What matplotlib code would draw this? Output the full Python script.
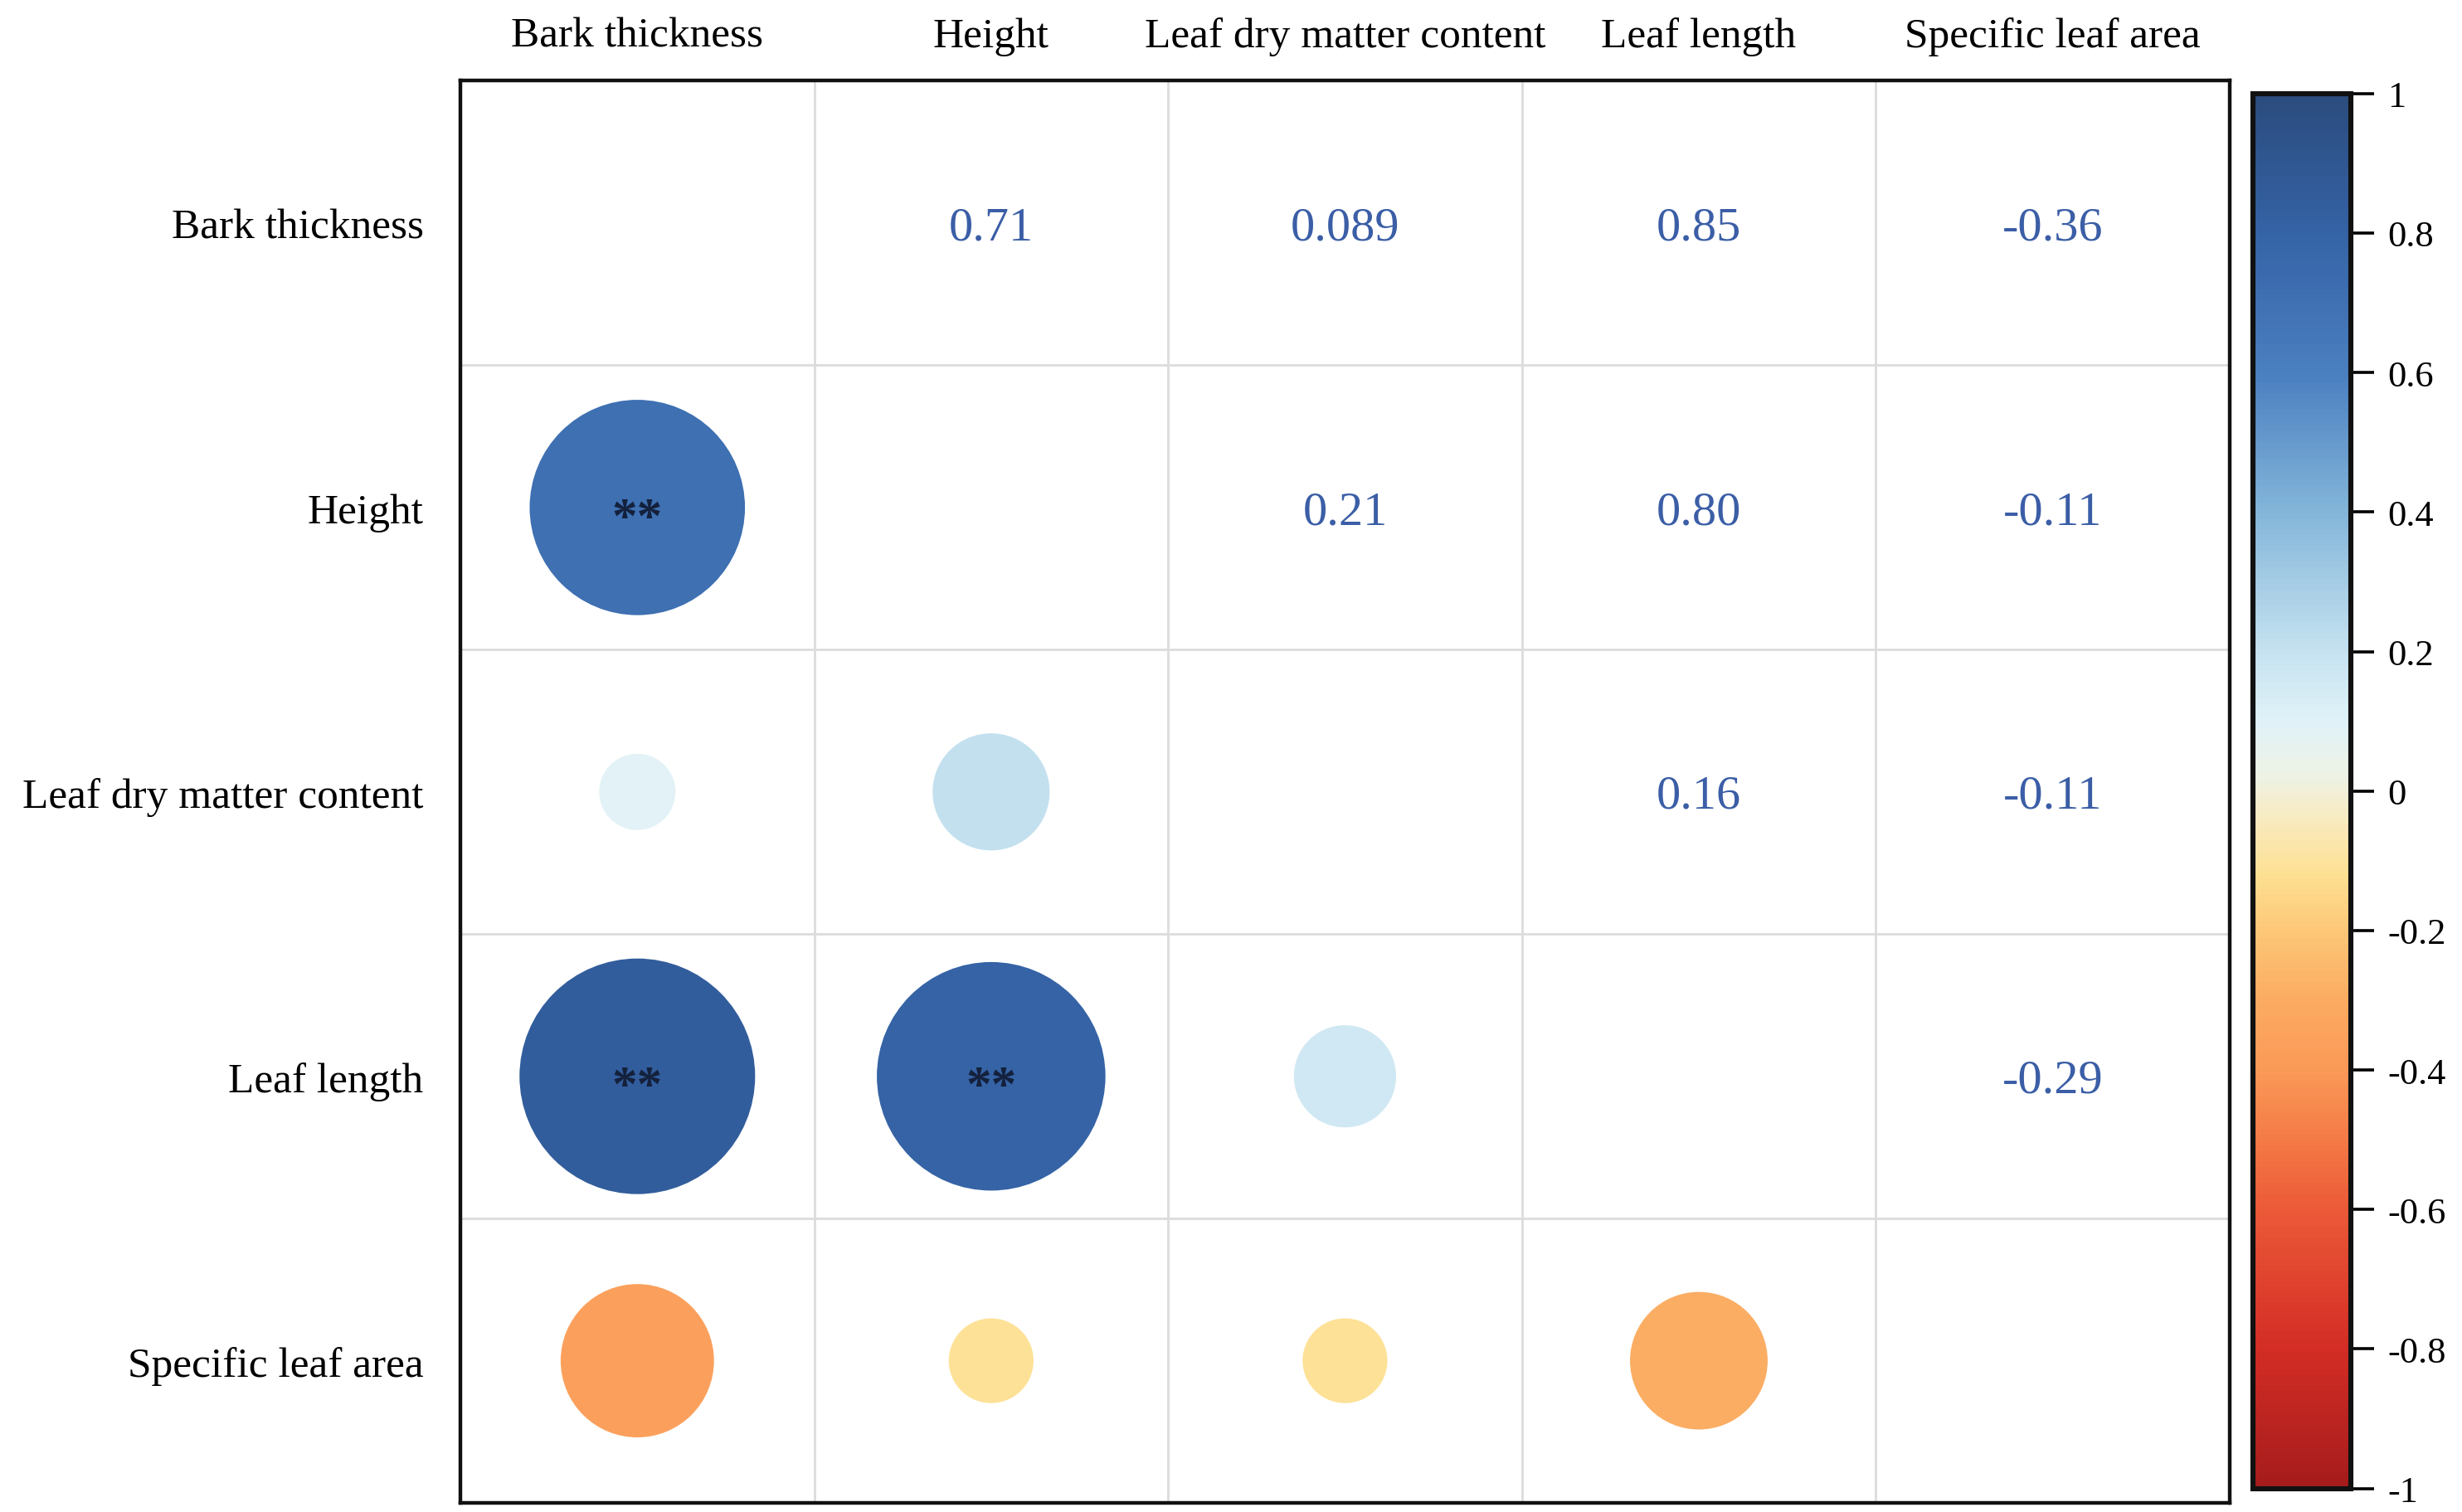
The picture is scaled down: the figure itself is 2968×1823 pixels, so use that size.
import numpy as np
import matplotlib
matplotlib.use("Agg")
import matplotlib.pyplot as plt
from matplotlib.colors import LinearSegmentedColormap

plt.rcParams["font.family"] = ["Liberation Serif", "DejaVu Serif"]

traits = ["Bark thickness", "Height", "Leaf dry matter content",
          "Leaf length", "Specific leaf area"]

# pairwise correlations (row i, col j), i < j
pairs = [(0, 1), (0, 2), (0, 3), (0, 4),
         (1, 2), (1, 3), (1, 4),
         (2, 3), (2, 4),
         (3, 4)]
r_values = [0.71, 0.089, 0.85, -0.36,
            0.21, 0.80, -0.11,
            0.16, -0.11,
            -0.29]
r_labels = ["0.71", "0.089", "0.85", "-0.36",
            "0.21", "0.80", "-0.11",
            "0.16", "-0.11",
            "-0.29"]
stars = ["**", "", "**", "",
         "", "**", "",
         "", "",
         ""]

cbar_ticks = [1, 0.8, 0.6, 0.4, 0.2, 0, -0.2, -0.4, -0.6, -0.8, -1]
cbar_ticklabels = ["1", "0.8", "0.6", "0.4", "0.2", "0",
                   "-0.2", "-0.4", "-0.6", "-0.8", "-1"]

cmap = LinearSegmentedColormap.from_list("corr", [
    (0.00, "#a51c1c"),
    (0.10, "#d42d25"),
    (0.20, "#ec5a38"),
    (0.25, "#f47b46"),
    (0.30, "#fb9a58"),
    (0.35, "#fbab62"),
    (0.40, "#fdc878"),
    (0.44, "#fde092"),
    (0.48, "#f8ebc0"),
    (0.51, "#eef2e4"),
    (0.55, "#e0f2f8"),
    (0.60, "#c6e2f0"),
    (0.70, "#84b6da"),
    (0.80, "#4a7fc0"),
    (0.90, "#3563a6"),
    (1.00, "#2b4c7e"),
])

fig = plt.figure(figsize=(14.84, 9.12), dpi=200)
ax = fig.add_axes([0.187, 0.006, 0.7186, 0.940])

n = len(traits)
ax.set_xlim(-0.5, n - 0.5)
ax.set_ylim(n - 0.5, -0.5)

# lower triangle: circles (area ~ |r|), upper triangle: numbers
xs = [p[0] for p in pairs]
ys = [p[1] for p in pairs]
sizes = [12300 * abs(v) for v in r_values]
sc = ax.scatter(xs, ys, s=sizes, c=r_values, cmap=cmap, vmin=-1, vmax=1,
                linewidths=0, zorder=3)

for (i, j), lab, st in zip(pairs, r_labels, stars):
    ax.text(j, i + 0.015, lab, ha="center", va="center", fontsize=21,
            color="#3b5ea6", zorder=4)
    if st:
        ax.text(i, j + 0.04, st, ha="center", va="center", fontsize=22,
                fontweight="bold", color="#14213d", zorder=4)

ax.set_xticks(range(n))
ax.set_xticklabels(traits, fontsize=18.5)
ax.set_yticks(range(n))
ax.set_yticklabels(traits, fontsize=18.5)
ax.xaxis.tick_top()
ax.tick_params(axis="x", length=0, pad=11)
ax.tick_params(axis="y", length=0, pad=16)

ax.set_xticks(np.arange(-0.5, n, 1), minor=True)
ax.set_yticks(np.arange(-0.5, n, 1), minor=True)
ax.tick_params(which="minor", length=0)
ax.grid(which="minor", color="#dcdcdc", linewidth=1.0)
ax.grid(which="major", visible=False)
for sp in ax.spines.values():
    sp.set_linewidth(1.6)
    sp.set_color("#111111")

cax = fig.add_axes([0.9152, 0.0156, 0.0395, 0.922])
cb = fig.colorbar(sc, cax=cax, ticks=cbar_ticks)
cb.set_ticklabels(cbar_ticklabels)
cb.outline.set_linewidth(2.2)
cb.outline.set_edgecolor("#111111")
cax.tick_params(length=10, width=1.3, labelsize=16, pad=6)

fig.savefig("out.png", dpi=200)
